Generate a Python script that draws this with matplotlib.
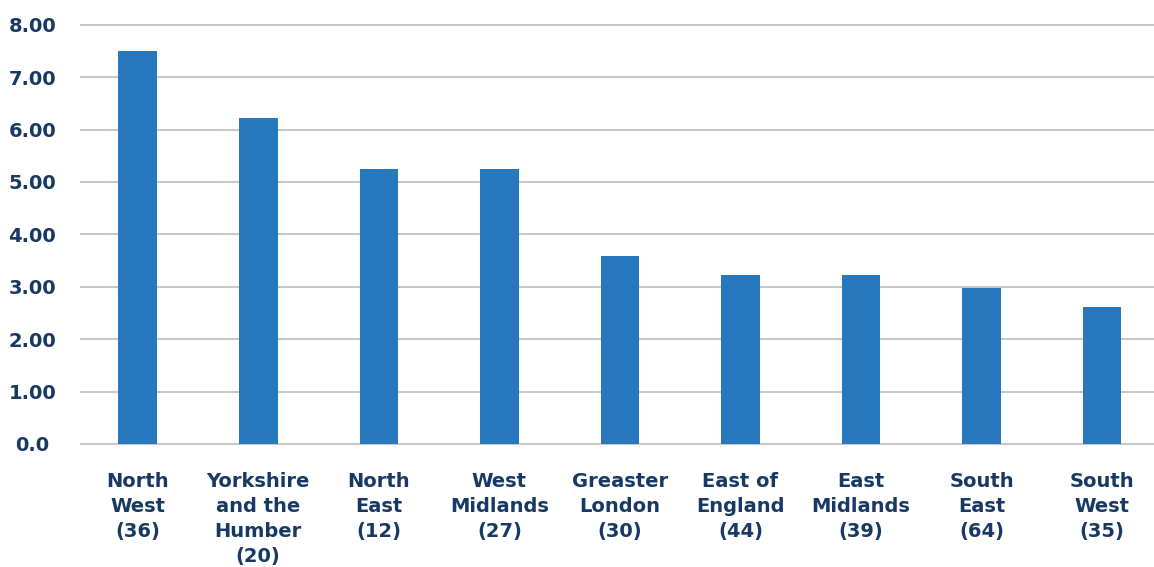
import matplotlib
matplotlib.use("Agg")
import matplotlib.pyplot as plt

# regional rates, numbers in brackets are counts
regions = ["North\nWest\n(36)", "Yorkshire\nand the\nHumber\n(20)", "North\nEast\n(12)",
           "West\nMidlands\n(27)", "Greaster\nLondon\n(30)", "East of\nEngland\n(44)",
           "East\nMidlands\n(39)", "South\nEast\n(64)", "South\nWest\n(35)"]
values = [7.50, 6.22, 5.25, 5.25, 3.59, 3.23, 3.23, 2.98, 2.61]
yticks = [0, 1, 2, 3, 4, 5, 6, 7, 8]
ytick_labels = ["0.0", "1.00", "2.00", "3.00", "4.00", "5.00", "6.00", "7.00", "8.00"]

navy = "#173963"
bar_col = "#2878BD"

plt.rcParams['font.family'] = ['DejaVu Sans']

fig = plt.figure(figsize=(11.54, 5.67), dpi=100)
ax = fig.add_axes([0.0702, 0.217, 0.9298, 0.742])

x = list(range(len(values)))
ax.bar(x, values, width=0.32, color=bar_col, zorder=3)

ax.set_ylim(0, 8.03)
ax.set_xlim(-0.47, 8.43)
ax.set_yticks(yticks)
ax.set_yticklabels(ytick_labels)
ax.set_xticks(x)
ax.set_xticklabels(regions)

ax.grid(axis='y', color="#C8C8C8", linewidth=1.5, zorder=0)
for gl in ax.get_ygridlines():
    gl.set_clip_on(False)
for s in ax.spines.values():
    s.set_visible(False)

ax.tick_params(axis='both', length=0)
ax.tick_params(axis='y', pad=35, labelsize=14, labelcolor=navy)
ax.tick_params(axis='x', pad=20, labelsize=14, labelcolor=navy)
for lab in ax.get_yticklabels():
    lab.set_fontweight('bold')
    lab.set_ha('center')
for lab in ax.get_xticklabels():
    lab.set_fontweight('bold')
    lab.set_linespacing(1.4)
    lab.set_va('top')

fig.savefig("out.png", dpi=100)
